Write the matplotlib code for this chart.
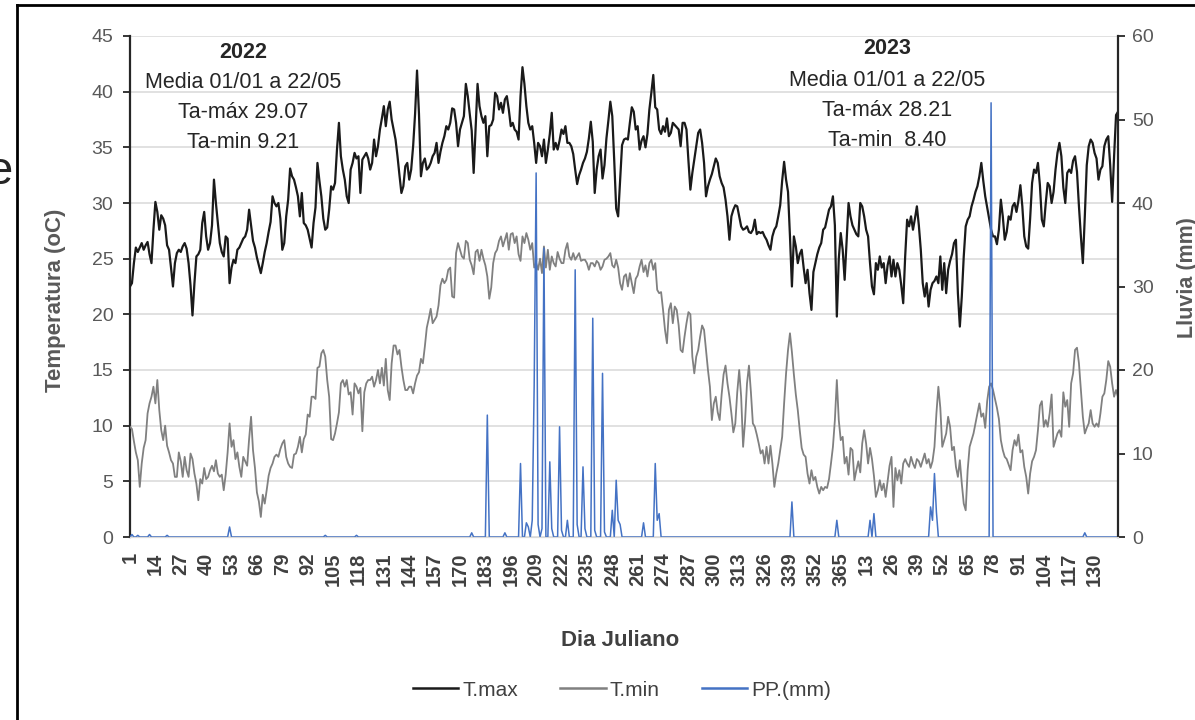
import numpy as np
import matplotlib.pyplot as plt
from matplotlib.lines import Line2D

plt.rcParams['font.family'] = ['Liberation Sans', 'DejaVu Sans']

# dia juliano: 2022 completo + 2023 hasta 22/05
dia_juliano = [str(d) for d in range(1, 366)] + [str(d) for d in range(1, 143)]

tmax = [
    22.5, 22.8, 24.6, 26.0, 25.6, 26.0, 26.4, 25.8, 26.2, 26.5,
    25.4, 24.6, 27.6, 30.1, 29.2, 27.6, 28.9, 28.6, 28.0, 26.2,
    25.8, 24.2, 22.5, 24.6, 25.5, 25.8, 25.6, 26.1, 26.4, 25.9,
    24.6, 22.6, 19.9, 22.8, 25.2, 25.4, 25.8, 28.2, 29.2, 27.0,
    25.8, 26.4, 28.0, 32.1, 30.0, 28.2, 26.4, 25.6, 25.2, 27.0,
    26.8, 22.8, 24.2, 24.9, 24.6, 25.8, 26.0, 26.4, 26.8, 27.0,
    27.6, 29.4, 28.0, 26.6, 26.0, 25.1, 24.4, 23.7, 24.6, 25.6,
    26.4, 27.4, 28.3, 30.6, 30.0, 29.7, 30.0, 28.6, 25.8, 26.4,
    28.8, 30.3, 33.1, 32.4, 32.1, 31.4, 30.6, 28.8, 30.9, 28.2,
    28.0, 27.6, 26.8, 26.0, 28.2, 29.6, 33.6, 32.0, 30.6, 28.6,
    27.6, 27.8, 29.4, 31.5, 31.2, 31.8, 34.8, 37.2, 34.2, 33.0,
    32.1, 30.6, 30.0, 33.0, 33.6, 34.5, 34.0, 34.2, 30.9, 33.9,
    34.2, 34.5, 34.0, 33.0, 33.6, 35.7, 34.2, 35.1, 36.6, 37.6,
    38.7, 36.9, 38.4, 39.1, 37.5, 36.6, 35.7, 34.2, 32.5, 30.9,
    31.5, 33.3, 33.6, 32.1, 33.0, 35.1, 38.0, 41.9, 38.0, 32.4,
    33.6, 34.0, 33.0, 33.2, 33.6, 34.2, 34.5, 35.4, 33.6, 34.6,
    35.4, 36.0, 36.9, 36.6, 37.2, 38.5, 38.4, 37.2, 35.1, 36.6,
    37.2, 37.8, 40.7, 39.6, 38.0, 36.5, 32.7, 36.6, 40.7, 38.7,
    37.8, 37.2, 37.8, 34.2, 36.9, 37.0, 37.5, 39.9, 39.6, 38.4,
    39.0, 38.1, 39.3, 39.6, 38.4, 36.9, 37.2, 36.6, 36.4, 35.7,
    39.6, 42.2, 40.7, 38.7, 37.2, 36.6, 36.9, 35.4, 33.6, 35.4,
    35.1, 34.2, 35.7, 33.6, 34.8, 36.2, 38.1, 34.8, 35.4, 34.8,
    35.6, 36.6, 36.2, 36.9, 35.4, 35.4, 35.1, 34.4, 33.0, 31.7,
    32.5, 33.0, 33.6, 34.0, 34.6, 35.8, 37.3, 35.5, 30.9, 33.0,
    34.2, 34.8, 32.2, 33.4, 35.8, 37.4, 39.1, 37.8, 33.8, 29.5,
    28.8, 32.0, 35.2, 35.7, 35.8, 35.7, 37.2, 38.6, 38.2, 36.6,
    36.9, 34.8, 35.6, 36.0, 35.0, 36.2, 38.4, 39.9, 41.5, 38.6,
    38.4, 36.6, 36.2, 36.9, 36.4, 37.6, 36.0, 36.3, 37.2, 37.0,
    36.8, 36.6, 35.1, 37.2, 37.2, 36.6, 33.8, 31.2, 32.7, 33.9,
    35.1, 36.3, 36.6, 35.4, 33.6, 30.6, 31.5, 32.1, 32.6, 33.3,
    34.0, 33.6, 32.4, 31.8, 31.4, 30.3, 28.8, 26.7, 28.8, 29.4,
    29.8, 29.7, 28.8, 27.9, 27.6, 27.7, 27.9, 27.4, 27.3, 27.6,
    28.5, 27.2, 27.4, 27.3, 27.4, 27.0, 26.7, 26.2, 25.8, 27.0,
    27.6, 27.9, 28.8, 29.8, 32.0, 33.7, 32.1, 31.0, 27.0, 22.5,
    27.0, 26.1, 24.6, 25.4, 25.8, 24.2, 22.8, 24.0, 21.9, 20.4,
    23.8, 24.6, 25.4, 26.0, 26.4, 27.6, 27.8, 28.6, 29.4, 29.7,
    30.6, 28.0, 19.8, 25.0, 27.3, 25.8, 23.1, 26.5, 30.0, 28.8,
    28.0, 27.6, 27.2, 27.0, 30.0, 29.7, 28.8, 27.6, 27.0, 24.6,
    22.5, 21.8, 24.6, 24.0, 25.2, 24.2, 24.6, 22.8, 24.4, 25.2,
    23.4, 24.9, 23.4, 24.6, 24.0, 22.6, 21.0, 25.2, 28.5, 27.9,
    28.8, 27.6, 28.6, 29.7, 28.0, 25.8, 22.8, 21.6, 22.8, 20.7,
    22.2, 22.8, 23.0, 23.4, 22.8, 25.2, 22.2, 24.6, 21.9, 24.0,
    24.8, 25.4, 26.4, 26.7, 21.9, 18.9, 21.6, 25.2, 27.9, 28.5,
    28.8, 29.7, 30.3, 31.0, 31.5, 32.4, 33.6, 32.0, 30.6, 29.6,
    28.6, 27.6, 27.0, 27.0, 26.3, 27.6, 30.3, 28.8, 26.7, 27.4,
    28.8, 28.5, 29.7, 30.0, 29.2, 30.2, 31.6, 29.7, 27.0, 26.1,
    25.9, 28.6, 31.8, 33.0, 32.7, 33.6, 31.6, 28.5, 27.9, 30.0,
    31.8, 31.5, 30.0, 31.0, 33.0, 34.5, 35.4, 34.2, 31.4, 30.0,
    32.7, 33.0, 32.7, 33.8, 34.2, 32.8, 29.7, 27.0, 24.6, 28.8,
    33.4, 35.1, 35.7, 35.4, 34.5, 34.0, 32.1, 33.0, 33.3, 35.1,
    35.7, 36.0, 33.4, 30.1, 34.2, 37.9, 38.2,
]

tmin = [
    9.9, 9.7, 8.6, 7.6, 6.9, 4.5, 6.6, 8.0, 8.7, 11.1,
    12.0, 12.6, 13.5, 12.0, 14.1, 11.4, 9.6, 8.7, 10.0, 8.2,
    7.6, 6.9, 6.6, 5.4, 5.4, 7.6, 6.8, 5.4, 7.2, 6.0,
    5.4, 7.5, 7.0, 5.7, 4.8, 3.3, 5.2, 4.8, 6.2, 5.2,
    5.4, 6.0, 6.4, 5.9, 6.9, 5.7, 5.4, 5.6, 4.2, 5.6,
    7.6, 10.2, 8.1, 8.7, 7.0, 7.6, 6.3, 5.4, 7.2, 6.8,
    6.4, 8.8, 10.8, 7.8, 6.2, 4.0, 3.2, 1.8, 3.8, 3.0,
    4.2, 5.5, 6.2, 6.6, 7.2, 7.4, 7.2, 7.9, 8.4, 8.7,
    7.2, 6.6, 6.3, 6.2, 7.4, 7.5, 8.1, 9.0, 7.6, 8.8,
    9.2, 11.0, 10.8, 12.6, 12.6, 12.4, 15.2, 15.3, 16.5, 16.8,
    16.2, 14.1, 12.6, 8.8, 8.7, 9.3, 10.2, 11.2, 13.8, 14.1,
    13.5, 14.1, 12.8, 13.0, 11.0, 13.8, 13.5, 12.9, 13.4, 9.5,
    13.0, 13.8, 14.1, 14.1, 14.4, 13.5, 14.1, 15.0, 13.8, 15.2,
    13.6, 16.0, 13.2, 12.3, 15.6, 17.2, 17.2, 16.4, 16.8, 15.3,
    14.1, 13.2, 13.2, 13.5, 13.5, 12.9, 13.8, 14.5, 14.8, 16.0,
    15.6, 17.1, 18.8, 19.6, 20.5, 19.2, 19.5, 19.8, 20.8, 22.6,
    23.2, 22.8, 23.1, 24.0, 24.2, 21.6, 21.5, 25.5, 26.4, 25.8,
    25.2, 25.0, 26.6, 26.4, 24.9, 24.4, 23.6, 25.6, 25.8, 24.8,
    25.8, 25.0, 24.4, 23.4, 21.4, 22.4, 24.6, 25.5, 25.8, 26.6,
    27.0, 26.1, 26.7, 27.3, 25.8, 27.2, 27.3, 26.4, 27.0, 25.4,
    24.8, 27.0, 26.4, 27.3, 26.7, 25.8, 26.4, 24.2, 24.6, 24.0,
    25.0, 23.7, 26.1, 24.2, 25.8, 24.0, 25.2, 24.6, 24.3, 25.6,
    25.0, 24.6, 24.6, 25.8, 26.4, 25.2, 24.9, 25.5, 24.9, 25.2,
    25.5, 24.8, 24.9, 24.9, 24.6, 24.0, 24.6, 24.6, 24.3, 24.8,
    24.6, 24.0, 24.3, 24.9, 25.0, 25.2, 25.5, 24.4, 24.2, 24.9,
    24.2, 22.8, 22.2, 23.4, 23.6, 22.5, 23.7, 22.8, 21.9, 23.2,
    23.5, 24.3, 24.9, 23.8, 24.4, 23.4, 24.6, 24.9, 24.0, 24.6,
    22.2, 21.9, 22.0, 20.4, 18.6, 17.4, 20.4, 21.0, 19.2, 20.7,
    20.4, 19.0, 16.8, 16.6, 18.0, 19.2, 20.2, 20.0, 16.2, 14.7,
    16.2, 16.8, 18.0, 19.0, 18.6, 16.8, 15.0, 13.5, 10.5, 12.0,
    12.6, 11.2, 10.5, 12.8, 14.6, 15.4, 13.8, 12.6, 11.1, 9.4,
    10.2, 13.0, 15.0, 12.6, 8.1, 10.4, 13.8, 15.4, 13.0, 10.2,
    9.9, 9.2, 8.4, 7.5, 7.8, 6.6, 8.1, 6.6, 8.2, 6.6,
    4.5, 5.7, 6.6, 7.8, 9.0, 12.0, 14.7, 16.8, 18.3, 16.6,
    14.6, 12.8, 11.4, 9.6, 8.0, 7.4, 7.2, 5.7, 4.8, 6.0,
    5.1, 5.4, 4.5, 3.9, 4.5, 4.2, 4.5, 4.4, 5.2, 6.6,
    8.1, 10.5, 14.1, 10.5, 8.7, 9.0, 6.6, 7.2, 5.6, 8.0,
    7.8, 5.1, 6.0, 6.8, 5.8, 8.4, 9.6, 8.4, 6.6, 8.0,
    7.0, 5.5, 3.6, 4.2, 5.1, 4.2, 4.8, 3.6, 5.0, 6.4,
    7.2, 2.7, 6.2, 5.1, 6.0, 4.8, 6.6, 7.0, 6.6, 6.3,
    7.2, 6.6, 6.2, 7.0, 6.8, 6.3, 6.9, 7.5, 6.6, 7.0,
    6.2, 6.8, 8.1, 11.1, 13.5, 11.6, 8.1, 8.7, 9.3, 10.8,
    9.9, 7.8, 8.1, 6.3, 5.4, 6.9, 4.8, 3.0, 2.4, 6.0,
    8.1, 8.7, 9.3, 10.2, 11.1, 12.0, 10.8, 11.1, 9.8, 12.2,
    13.5, 13.8, 13.2, 12.4, 11.6, 10.6, 8.7, 7.8, 7.2, 7.0,
    6.5, 6.0, 7.8, 8.7, 8.2, 9.2, 7.6, 7.8, 6.3, 5.4,
    3.9, 5.7, 6.8, 7.2, 7.8, 9.6, 11.8, 12.2, 9.9, 10.5,
    9.9, 11.1, 12.8, 8.1, 8.7, 9.3, 9.6, 9.0, 13.0, 11.7,
    12.3, 9.9, 13.8, 14.7, 16.8, 17.0, 15.6, 13.2, 10.8, 9.3,
    9.8, 10.2, 11.4, 10.2, 9.9, 10.2, 9.9, 11.1, 12.6, 12.9,
    14.1, 15.8, 15.3, 13.8, 12.6, 13.2, 12.6,
]

# lluvia: posicion del dia en la serie y mm (resto = 0)
pp_dia = [1, 4, 10, 19, 51, 100, 116, 175, 183, 192, 200, 203, 204, 206, 207,
          208, 209, 211, 212, 215, 216, 220, 221, 224, 228, 229, 232, 233,
          237, 238, 242, 243, 247, 249, 250, 251, 263, 269, 270, 271, 339, 362,
          379, 381, 410, 411, 412, 413, 441, 489]
pp_mm = [0.3, 0.2, 0.3, 0.2, 1.2, 0.2, 0.2, 0.5, 14.6, 0.5, 8.8, 1.7, 1.2, 2.0, 18.2,
         43.6, 1.5, 1.0, 34.6, 9.0, 1.0, 13.2, 0.8, 2.0, 32.0, 1.5, 8.4, 1.0,
         26.2, 0.8, 19.6, 0.6, 3.2, 6.8, 2.0, 1.5, 1.7, 8.8, 2.0, 2.8, 4.2, 2.0,
         2.0, 2.8, 3.6, 2.0, 7.6, 3.0, 52.0, 0.5]

n = len(tmax)
x = np.arange(n)
pp = np.zeros(n)
pp[pp_dia] = pp_mm

W, H = 1195, 720
fig = plt.figure(figsize=(W / 100, H / 100), dpi=100)
ax = fig.add_axes([130 / W, 1 - 537 / H, (1118 - 130) / W, (537 - 36) / H])

ax.plot(x, tmax, color='#1a1a1a', lw=1.6, zorder=3)
ax.plot(x, tmin, color='#808080', lw=1.3, zorder=3)
ax.set_xlim(0, n - 1)
ax.set_ylim(0, 45)
ax.set_yticks(range(0, 46, 5))
ax.grid(axis='y', color='#d9d9d9', lw=1.1)
ax.set_axisbelow(True)

ax2 = ax.twinx()
ax2.plot(x, pp, color='#4472c4', lw=1.1)
ax2.set_ylim(0, 60)
ax2.set_yticks(range(0, 61, 10))

for a in (ax, ax2):
    a.spines['top'].set_visible(False)
    a.spines['bottom'].set_color('#d9d9d9')
ax.spines['right'].set_visible(False)
ax.spines['left'].set_color('#262626')
ax.spines['left'].set_linewidth(1.6)
ax2.spines['left'].set_visible(False)
ax2.spines['right'].set_color('#262626')
ax2.spines['right'].set_linewidth(1.6)

ax.tick_params(axis='y', direction='out', length=5, width=1.3, color='#262626',
               labelsize=14, labelcolor='#595959', pad=7)
ax2.tick_params(axis='y', direction='out', length=5, width=1.3, color='#262626',
                labelsize=14, labelcolor='#595959', pad=5)

pos = list(range(0, n, 13))
ax.set_xticks(pos)
ax.set_xticklabels([dia_juliano[p] for p in pos], rotation=90, fontsize=14.5,
                   fontweight='bold', color='#404040')
ax.tick_params(axis='x', length=0, pad=11)

def px(xp, yp):
    return xp / W, 1 - yp / H

fig.text(*px(55, 300), 'Temperatura (oC)', rotation=90, ha='center', va='center',
         fontsize=16, fontweight='bold', color='#595959')
fig.text(*px(1187, 278), 'Lluvia (mm)', rotation=90, ha='center', va='center',
         fontsize=15.5, fontweight='bold', color='#595959')
fig.text(*px(620, 640), 'Dia Juliano', ha='center', va='center', fontsize=16,
         fontweight='bold', color='#404040')

# textos de medias
notas = [
    (243, 53, '2022', 'bold'), (243, 83, 'Media 01/01 a 22/05', 'normal'),
    (243, 113, 'Ta-máx 29.07', 'normal'), (243, 143, 'Ta-min 9.21', 'normal'),
    (887, 48, '2023', 'bold'), (887, 80, 'Media 01/01 a 22/05', 'normal'),
    (887, 110, 'Ta-máx 28.21', 'normal'), (887, 140, 'Ta-min  8.40', 'normal'),
]
for xp, yp, t, w in notas:
    fig.text(*px(xp, yp), t, ha='center', va='center', fontsize=15.5,
             fontweight=w, color='#262626')

handles = [Line2D([], [], color='#1a1a1a', lw=1.8),
           Line2D([], [], color='#808080', lw=1.8),
           Line2D([], [], color='#4472c4', lw=1.8)]
fig.legend(handles, ['T.max', 'T.min', 'PP.(mm)'], loc='center',
           bbox_to_anchor=px(622, 690), ncol=3, frameon=False,
           prop={'size': 15}, handlelength=2.2,
           handletextpad=0.2, columnspacing=2.0, labelcolor='#404040')

# marco del recorte y letra cortada a la izquierda
fig.add_artist(Line2D([17 / W, 17 / W], [0, 1 - 5 / H], color='black', lw=2))
fig.add_artist(Line2D([17 / W, 1], [1 - 5 / H, 1 - 5 / H], color='black', lw=2))
fig.text(*px(13, 172), 'e', ha='right', va='center', fontsize=34, color='#262626')

fig.savefig('out.png', dpi=100)
